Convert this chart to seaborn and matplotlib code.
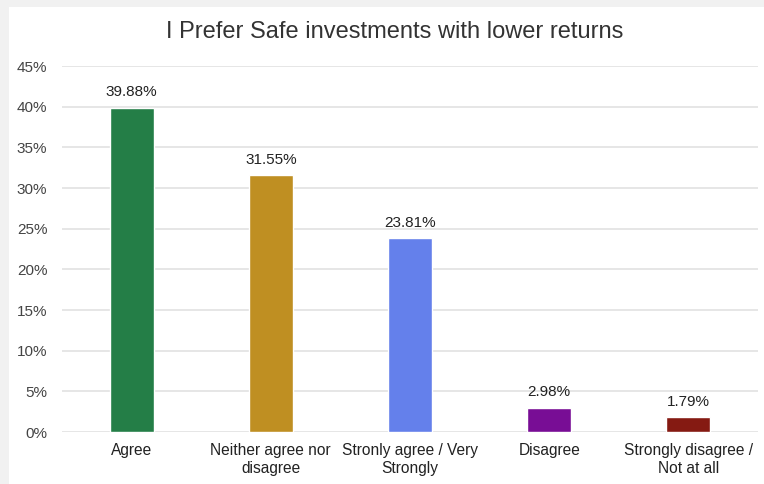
import matplotlib
matplotlib.use("Agg")
import matplotlib.pyplot as plt
import matplotlib.patches as mpatches
from matplotlib.ticker import FuncFormatter, MultipleLocator
import seaborn as sns
import pandas as pd

categories = ["Agree", "Neither agree nor\ndisagree", "Stronly agree / Very\nStrongly",
              "Disagree", "Strongly disagree /\nNot at all"]
values = [39.88, 31.55, 23.81, 2.98, 1.79]
colors = ["#247e47", "#bf8f22", "#6480eb", "#780d95", "#851a12"]
title = "I Prefer Safe investments with lower returns"

df = pd.DataFrame({"category": categories, "value": values})

sns.set_theme(style="white")
plt.rcParams["font.family"] = ["Liberation Sans", "DejaVu Sans"]

fig = plt.figure(figsize=(7.64, 4.84), dpi=100)
fig.patch.set_facecolor("#f1f1f1")
# white card behind the chart
card = mpatches.Rectangle((9 / 764, 0), 1, 1 - 7 / 484, transform=fig.transFigure,
                          facecolor="white", edgecolor="none", zorder=-10)
fig.patches.append(card)

ax = fig.add_axes([62 / 764, 1 - 432 / 484, 696 / 764, 366 / 484])
ax.set_zorder(1)
ax.set_facecolor("none")
sns.barplot(data=df, x="category", y="value", hue="category", palette=colors,
            legend=False, width=0.315, ax=ax, saturation=1)

ax.set_ylim(0, 45)
ax.set_xlim(-0.5, len(categories) - 0.5)
ax.yaxis.set_major_locator(MultipleLocator(5))
ax.yaxis.set_major_formatter(FuncFormatter(lambda v, p: f"{v:.0f}%"))
ax.grid(axis="y", color="#e2e2e2", linewidth=1.2)
ax.set_axisbelow(True)
for s in ax.spines.values():
    s.set_visible(False)
ax.set_xlabel("")
ax.set_ylabel("")
ax.tick_params(axis="y", length=0, pad=10.5, labelsize=11, labelcolor="#444444")
ax.tick_params(axis="x", length=0, pad=8, labelsize=11.2, labelcolor="#222222")

for i, v in enumerate(values):
    ax.annotate(f"{v:.2f}%", (i, v), xytext=(0, 6), textcoords="offset points",
                ha="center", va="bottom", fontsize=11, color="#222222")

fig.text(395 / 764, 1 - 32 / 484, title, ha="center", va="center",
         fontsize=17, color="#333333")

fig.savefig("out.png", dpi=100)
